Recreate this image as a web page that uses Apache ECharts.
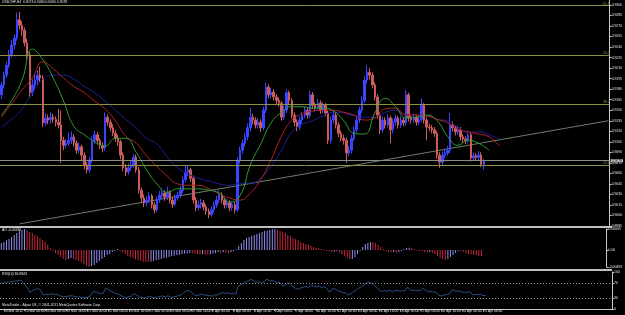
<!DOCTYPE html>
<html>
<head>
<meta charset="utf-8">
<script src="https://cdn.jsdelivr.net/npm/echarts@6/dist/echarts.min.js"></script>
<style>
html,body{margin:0;padding:0;background:#000;}
#chart{width:625px;height:315px;}
</style>
</head>
<body>
<div id="chart"></div>
<script>
// USDCHF H4 bars
var barOpen = [
0.9172,0.9186,0.9200,0.9214,0.9229,0.9243,0.9253,0.9279,0.9271,0.9264,
0.9246,0.9229,0.9175,0.9186,0.9193,0.9200,0.9196,0.9132,0.9139,0.9136,
0.9140,0.9137,0.9133,0.9129,0.9107,0.9100,0.9103,0.9107,0.9112,0.9103,
0.9093,0.9098,0.9086,0.9072,0.9065,0.9079,0.9107,0.9115,0.9107,0.9100,
0.9096,0.9140,0.9133,0.9125,0.9117,0.9110,0.9105,0.9086,0.9068,0.9062,
0.9068,0.9072,0.9083,0.9065,0.9036,0.9025,0.9018,0.9022,0.9028,0.9015,
0.9008,0.9022,0.9029,0.9032,0.9026,0.9033,0.9022,0.9016,0.9025,0.9029,
0.9036,0.9051,0.9062,0.9065,0.9053,0.9022,0.9011,0.9015,0.9018,0.9012,
0.9006,0.9001,0.9008,0.9015,0.9022,0.9029,0.9022,0.9015,0.9018,0.9011,
0.9015,0.9008,0.9079,0.9093,0.9103,0.9112,0.9125,0.9140,0.9136,0.9129,
0.9133,0.9125,0.9150,0.9183,0.9172,0.9176,0.9169,0.9164,0.9160,0.9140,
0.9150,0.9175,0.9164,0.9143,0.9133,0.9126,0.9136,0.9143,0.9150,0.9143,
0.9172,0.9157,0.9153,0.9160,0.9150,0.9157,0.9146,0.9107,0.9136,0.9143,
0.9129,0.9117,0.9110,0.9107,0.9089,0.9093,0.9110,0.9122,0.9136,0.9150,
0.9164,0.9193,0.9204,0.9200,0.9186,0.9169,0.9143,0.9122,0.9136,0.9129,
0.9139,0.9122,0.9133,0.9139,0.9129,0.9136,0.9132,0.9172,0.9139,0.9136,
0.9140,0.9133,0.9137,0.9157,0.9136,0.9126,0.9125,0.9122,0.9117,0.9086,
0.9076,0.9086,0.9089,0.9093,0.9129,0.9125,0.9119,0.9122,0.9112,0.9109,
0.9107,0.9115,0.9082,0.9085,0.9083,0.9086,0.9073];
var barClose = [
0.9186,0.9200,0.9214,0.9229,0.9243,0.9253,0.9279,0.9271,0.9264,0.9246,
0.9229,0.9175,0.9186,0.9193,0.9200,0.9196,0.9132,0.9139,0.9136,0.9140,
0.9137,0.9133,0.9129,0.9107,0.9100,0.9103,0.9107,0.9112,0.9103,0.9093,
0.9098,0.9086,0.9072,0.9065,0.9079,0.9107,0.9115,0.9107,0.9100,0.9096,
0.9140,0.9133,0.9125,0.9117,0.9110,0.9105,0.9086,0.9068,0.9062,0.9068,
0.9072,0.9083,0.9065,0.9036,0.9025,0.9018,0.9022,0.9028,0.9015,0.9008,
0.9022,0.9029,0.9032,0.9026,0.9033,0.9022,0.9016,0.9025,0.9029,0.9036,
0.9051,0.9062,0.9065,0.9053,0.9022,0.9011,0.9015,0.9018,0.9012,0.9006,
0.9001,0.9008,0.9015,0.9022,0.9029,0.9022,0.9015,0.9018,0.9011,0.9015,
0.9008,0.9079,0.9093,0.9103,0.9112,0.9125,0.9140,0.9136,0.9129,0.9133,
0.9125,0.9150,0.9183,0.9172,0.9176,0.9169,0.9164,0.9160,0.9140,0.9150,
0.9175,0.9164,0.9143,0.9133,0.9126,0.9136,0.9143,0.9150,0.9143,0.9172,
0.9157,0.9153,0.9160,0.9150,0.9157,0.9146,0.9107,0.9136,0.9143,0.9129,
0.9117,0.9110,0.9107,0.9089,0.9093,0.9110,0.9122,0.9136,0.9150,0.9164,
0.9193,0.9204,0.9200,0.9186,0.9169,0.9143,0.9122,0.9136,0.9129,0.9139,
0.9122,0.9133,0.9139,0.9129,0.9136,0.9132,0.9172,0.9139,0.9136,0.9140,
0.9133,0.9137,0.9157,0.9136,0.9126,0.9125,0.9122,0.9117,0.9086,0.9076,
0.9086,0.9089,0.9093,0.9129,0.9125,0.9119,0.9122,0.9112,0.9109,0.9107,
0.9115,0.9082,0.9085,0.9083,0.9086,0.9073,0.9078];
var barLow = [
0.9166,0.9181,0.9196,0.9210,0.9225,0.9237,0.9249,0.9265,0.9256,0.9241,
0.9222,0.9168,0.9170,0.9180,0.9186,0.9190,0.9126,0.9128,0.9130,0.9131,
0.9132,0.9127,0.9124,0.9075,0.9093,0.9096,0.9099,0.9102,0.9098,0.9088,
0.9089,0.9079,0.9066,0.9060,0.9061,0.9075,0.9102,0.9101,0.9095,0.9090,
0.9092,0.9128,0.9120,0.9113,0.9105,0.9099,0.9080,0.9063,0.9056,0.9058,
0.9064,0.9068,0.9061,0.9031,0.9019,0.9012,0.9013,0.9018,0.9010,0.9003,
0.9005,0.9018,0.9024,0.9021,0.9022,0.9017,0.9011,0.9013,0.9021,0.9025,
0.9032,0.9047,0.9056,0.9048,0.9017,0.9006,0.9007,0.9010,0.9007,0.9001,
0.8996,0.8998,0.9004,0.9011,0.9018,0.9017,0.9010,0.9011,0.9006,0.9007,
0.9003,0.9005,0.9074,0.9088,0.9098,0.9107,0.9120,0.9130,0.9124,0.9124,
0.9119,0.9121,0.9146,0.9167,0.9167,0.9164,0.9159,0.9155,0.9135,0.9136,
0.9146,0.9159,0.9138,0.9127,0.9120,0.9122,0.9131,0.9139,0.9138,0.9139,
0.9152,0.9148,0.9149,0.9145,0.9146,0.9141,0.9102,0.9103,0.9131,0.9124,
0.9112,0.9105,0.9101,0.9075,0.9084,0.9088,0.9106,0.9118,0.9132,0.9146,
0.9160,0.9188,0.9194,0.9181,0.9164,0.9138,0.9116,0.9118,0.9124,0.9125,
0.9103,0.9117,0.9128,0.9124,0.9125,0.9127,0.9128,0.9134,0.9131,0.9132,
0.9128,0.9129,0.9133,0.9131,0.9107,0.9120,0.9117,0.9112,0.9081,0.9068,
0.9072,0.9082,0.9085,0.9089,0.9120,0.9114,0.9115,0.9107,0.9104,0.9102,
0.9103,0.9077,0.9078,0.9078,0.9079,0.9069,0.9065];
var barHigh = [
0.9190,0.9205,0.9219,0.9236,0.9250,0.9258,0.9289,0.9290,0.9277,0.9268,
0.9252,0.9233,0.9194,0.9203,0.9207,0.9212,0.9200,0.9146,0.9144,0.9147,
0.9145,0.9141,0.9152,0.9150,0.9112,0.9109,0.9118,0.9120,0.9116,0.9107,
0.9104,0.9101,0.9090,0.9076,0.9084,0.9113,0.9121,0.9119,0.9110,0.9104,
0.9147,0.9144,0.9137,0.9130,0.9122,0.9115,0.9108,0.9090,0.9073,0.9074,
0.9078,0.9088,0.9087,0.9069,0.9040,0.9030,0.9028,0.9034,0.9031,0.9019,
0.9027,0.9035,0.9039,0.9036,0.9041,0.9036,0.9026,0.9030,0.9034,0.9042,
0.9056,0.9072,0.9070,0.9068,0.9057,0.9026,0.9021,0.9024,0.9022,0.9016,
0.9010,0.9013,0.9020,0.9028,0.9036,0.9033,0.9026,0.9024,0.9022,0.9020,
0.9019,0.9083,0.9098,0.9108,0.9118,0.9131,0.9153,0.9145,0.9140,0.9139,
0.9137,0.9155,0.9189,0.9187,0.9182,0.9180,0.9173,0.9168,0.9163,0.9156,
0.9180,0.9178,0.9167,0.9147,0.9137,0.9141,0.9148,0.9155,0.9154,0.9178,
0.9176,0.9161,0.9166,0.9164,0.9162,0.9160,0.9150,0.9141,0.9149,0.9147,
0.9133,0.9121,0.9115,0.9111,0.9099,0.9115,0.9127,0.9141,0.9155,0.9170,
0.9199,0.9214,0.9210,0.9204,0.9190,0.9173,0.9147,0.9141,0.9140,0.9144,
0.9142,0.9138,0.9144,0.9142,0.9141,0.9140,0.9179,0.9175,0.9143,0.9145,
0.9144,0.9142,0.9167,0.9160,0.9140,0.9131,0.9129,0.9126,0.9120,0.9090,
0.9091,0.9094,0.9099,0.9146,0.9134,0.9129,0.9128,0.9126,0.9116,0.9113,
0.9121,0.9118,0.9090,0.9089,0.9092,0.9090,0.9080];

// one label every 8 bars, first one on bar 1
var tickLabels = ['13 Mar 2012','15 Mar 00:00','16 Mar 08:00','19 Mar 16:00','21 Mar 00:00','22 Mar 08:00',
  '23 Mar 16:00','27 Mar 00:00','28 Mar 08:00','29 Mar 16:00','2 Apr 00:00','3 Apr 08:00','4 Apr 16:00',
  '6 Apr 00:00','9 Apr 08:00','10 Apr 16:00','12 Apr 00:00','13 Apr 08:00','16 Apr 16:00','18 Apr 00:00',
  '19 Apr 08:00','20 Apr 16:00','24 Apr 00:00','25 Apr 08:00'];

// Alligator lines, read every 4th bar
var alligatorBars = [0,4,8,12,16,20,24,28,32,36,40,44,48,52,56,60,64,68,72,76,80,84,88,92,96,
  100,104,108,112,116,120,124,128,132,136,140,144,148,152,156,160,164,168,172,176,180,184,188,192];
var lipsLine = [0.9143,0.9164,0.9193,0.9237,0.9222,0.9196,0.9163,0.9127,0.9115,0.9105,0.9099,0.9110,
  0.9110,0.9090,0.9065,0.9045,0.9033,0.9038,0.9038,0.9038,0.9036,0.9032,0.9019,0.9028,0.9072,0.9102,
  0.9132,0.9147,0.9155,0.9155,0.9153,0.9153,0.9149,0.9135,0.9117,0.9116,0.9146,0.9167,0.9155,0.9139,
  0.9140,0.9143,0.9135,0.9113,0.9100,0.9107,0.9103,0.9093];
var teethLine = [0.9140,0.9159,0.9179,0.9196,0.9219,0.9209,0.9196,0.9184,0.9175,0.9163,0.9152,0.9135,
  0.9113,0.9103,0.9085,0.9070,0.9056,0.9045,0.9043,0.9043,0.9038,0.9031,0.9025,0.9022,0.9032,0.9051,
  0.9079,0.9113,0.9136,0.9145,0.9149,0.9150,0.9150,0.9147,0.9143,0.9136,0.9139,0.9152,0.9153,0.9143,
  0.9143,0.9142,0.9137,0.9132,0.9123,0.9119,0.9116,0.9112,0.9099];
var jawLine = [0.9126,0.9137,0.9152,0.9175,0.9194,0.9200,0.9200,0.9194,0.9184,0.9175,0.9163,0.9150,
  0.9137,0.9125,0.9110,0.9102,0.9083,0.9068,0.9059,0.9053,0.9049,0.9045,0.9043,0.9046,0.9046,0.9053,
  0.9070,0.9093,0.9119,0.9130,0.9135,0.9142,0.9147,0.9146,0.9142,0.9140,0.9140,0.9147,0.9150,0.9143,
  0.9143,0.9142,0.9137,0.9135,0.9126,0.9119,0.9119,0.9115,0.9109];

var aoValues = [
0.00203,0.00232,0.0029,0.00319,0.00377,0.00435,0.00493,0.00551,0.0058,0.00609,
0.0058,0.00522,0.00493,0.00435,0.00406,0.00348,0.0029,0.00232,0.00145,0.00058,
-0.00029,-0.00087,-0.00145,-0.00203,-0.00261,-0.0029,-0.00261,-0.00232,-0.00261,-0.0029,
-0.00319,-0.00348,-0.00406,-0.00464,-0.00493,-0.00464,-0.00435,-0.00377,-0.00319,-0.00261,
-0.00203,-0.00145,-0.00116,-0.00058,-0.00029,0.00029,-0.00029,-0.00058,-0.00116,-0.00174,
-0.00203,-0.00232,-0.00261,-0.0029,-0.00319,-0.0034,-0.00349,-0.00352,-0.00336,-0.00319,
-0.0029,-0.00284,-0.00261,-0.00232,-0.00226,-0.00203,-0.00174,-0.00168,-0.00145,-0.00139,
-0.00116,-0.0011,-0.00104,-0.00087,-0.00095,-0.0011,-0.00121,-0.0013,-0.00122,-0.00135,
-0.0014,-0.0012,-0.001,-0.00085,-0.0006,-0.00075,-0.00065,-0.0007,-0.00085,-0.0006,
-0.00035,0.00029,0.00116,0.00203,0.0029,0.00348,0.00377,0.00406,0.00435,0.00464,
0.00493,0.00522,0.00551,0.0056,0.0058,0.006,0.00609,0.0058,0.00551,0.00522,
0.00493,0.00435,0.00406,0.00348,0.00319,0.0029,0.00232,0.00203,0.00174,0.00145,
0.00116,0.00087,0.00058,0.0005,0.00029,0.00025,-0.00029,-0.00035,-0.00058,-0.00052,
-0.0003,-0.00058,-0.00116,-0.00174,-0.00232,-0.00261,-0.00255,-0.00203,-0.00116,-0.00029,
0.00087,0.00174,0.00203,0.00232,0.00225,0.00203,0.00145,0.00087,0.00029,-0.00029,
-0.00058,-0.00062,-0.00055,-0.00087,-0.00058,-0.00029,0.00029,0.00058,0.00062,0.00055,
0.00029,-0.00029,-0.0002,-0.00035,-0.00058,-0.00062,-0.00058,-0.00087,-0.00116,-0.00174,
-0.00232,-0.00261,-0.0029,-0.00261,-0.00203,-0.00145,-0.00087,-0.00029,-0.00035,-0.00058,
-0.00087,-0.00116,-0.0012,-0.00145,-0.0015,-0.00174,-0.0018];

var rsiValues = [
70,71,72,73,74,75,76,78,75,66,
58,45,50,53,55,52,38,40,39,41,
40,39,38,34,33,34,35,36,34,32,
33,31,32,31,34,45,47,44,42,41,
56,53,48,45,42,40,36,32,31,33,
35,42,37,33,31,30,32,34,31,30,
32,34,35,33,36,32,32,34,36,38,
44,49,50,45,39,36,38,40,38,37,
36,35,38,38,42,44,42,44,41,43,
40,62,66,70,73,77,80,76,72,74,
70,74,81,76,77,74,72,71,62,65,
71,67,60,56,53,57,59,61,58,66,
61,60,62,58,60,56,45,54,55,50,
47,45,44,38,40,46,50,55,59,63,
70,72,70,65,59,52,47,50,48,51,
46,49,51,48,50,49,59,51,50,51,
49,50,56,50,47,47,46,45,37,35,
38,39,40,52,50,48,49,46,45,45,
47,38,39,39,40,36,37];

var fibLevels = ['23.6', '38.2', '50.0', '61.8'];
var fibPrices = [0.9072, 0.9159, 0.9229, 0.9299];
var trendLine = [[7, 0.8988], [234, 0.9135]];
var slotCount = 235;

var slots = [];
for (var i = 0; i < slotCount; i++) slots.push(i);
var candles = barOpen.map(function (o, i) { return [o, barClose[i], barLow[i], barHigh[i]]; });
var lastClose = barClose[barClose.length - 1];

function isTick(i) { return i >= 1 && i <= 185 && (i - 1) % 8 === 0; }
function alligator(vals) { return vals.map(function (v, k) { return [alligatorBars[k], v]; }); }

var fontFam = 'Liberation Sans';
var txt = {color: '#e8e8e8', fontSize: 3.4, fontFamily: fontFam, fontWeight: 'normal'};
var axisCol = '#c8c8c8';
var bull = '#3b44ff', bear = '#cd5c5c';
var olive = '#8f8f45';

// horizontal levels: fibonacci lines and the bid line
var levelMarks = fibPrices.map(function (p, i) {
    return {yAxis: p, lineStyle: {color: olive, width: 1, type: 'solid'},
        label: {show: true, position: 'insideEndTop', distance: 0, formatter: fibLevels[i],
            color: olive, fontSize: 3.4, fontFamily: fontFam}};
});
levelMarks.push({yAxis: lastClose, lineStyle: {color: '#8a8a8a', width: 1, type: 'solid'},
    label: {show: true, position: 'end', distance: 1, formatter: lastClose.toFixed(4),
        color: '#000', backgroundColor: '#d0d0d0', padding: [0, 1], fontSize: 3.4, fontFamily: fontFam}});

var xBase = {type: 'category', data: slots, boundaryGap: true,
    axisLine: {show: false}, axisTick: {show: false}, axisLabel: {show: false}, splitLine: {show: false}};

var chart = echarts.init(document.getElementById('chart'));
var option = {
    backgroundColor: '#000',
    animation: false,
    title: [
        {text: 'USDCHF,H4  0.9073 0.9080 0.9065 0.9078', left: 2, top: 1, padding: 0, textStyle: txt},
        {text: 'AO -0.00180', left: 2, top: 229, padding: 0, textStyle: txt},
        {text: 'RSI(14) 36.9843', left: 2, top: 273, padding: 0, textStyle: txt},
        {text: 'MetaTrader - Alpari UK, \u00a9 2001-2011 MetaQuotes Software Corp.', left: 2, top: 304, padding: 0, textStyle: txt}
    ],
    grid: [
        {left: 0, right: 13, top: 0, height: 226},
        {left: 0, right: 13, top: 229, height: 38},
        {left: 0, right: 13, top: 272, height: 37}
    ],
    xAxis: [
        Object.assign({}, xBase, {gridIndex: 0}),
        Object.assign({}, xBase, {gridIndex: 1}),
        Object.assign({}, xBase, {gridIndex: 2,
            axisLine: {show: true, lineStyle: {color: axisCol, width: 1}},
            axisTick: {show: true, alignWithLabel: true, length: 2, interval: function (i) { return isTick(i); },
                lineStyle: {color: axisCol}},
            axisLabel: {show: true, align: 'left', margin: 1, color: '#e8e8e8', fontSize: 3.4, fontFamily: fontFam,
                interval: function (i) { return isTick(i); },
                formatter: function (v, i) { return tickLabels[(i - 1) / 8]; }}
        })
    ],
    yAxis: [
        {type: 'value', gridIndex: 0, position: 'right', min: 0.8985, max: 0.93071, interval: 0.0015,
            axisLine: {show: true, lineStyle: {color: axisCol}},
            axisTick: {show: true, length: 2, lineStyle: {color: axisCol}},
            axisLabel: {margin: 2, color: '#e8e8e8', fontSize: 3.4, fontFamily: fontFam, showMaxLabel: false,
                formatter: function (v) { return v.toFixed(4); }},
            splitLine: {show: false}},
        {type: 'value', gridIndex: 1, position: 'right', min: -0.00493, max: 0.00609,
            axisLine: {show: true, lineStyle: {color: axisCol}},
            axisTick: {show: true, length: 2, customValues: [-0.00493, 0, 0.00609], lineStyle: {color: axisCol}},
            axisLabel: {margin: 2, color: '#e8e8e8', fontSize: 3.4, fontFamily: fontFam,
                customValues: [-0.00493, 0, 0.00609],
                formatter: function (v) { return v === 0 ? '0.00' : v.toFixed(5); }},
            splitLine: {show: false}},
        {type: 'value', gridIndex: 2, position: 'right', min: 0, max: 100,
            axisLine: {show: true, lineStyle: {color: axisCol}},
            axisTick: {show: true, length: 2, customValues: [0, 30, 70, 100], lineStyle: {color: axisCol}},
            axisLabel: {margin: 2, color: '#e8e8e8', fontSize: 3.4, fontFamily: fontFam,
                customValues: [0, 30, 70, 100]},
            splitLine: {show: false}}
    ],
    graphic: [
        {type: 'rect', shape: {x: 0, y: 226, width: 612, height: 2}, style: {fill: '#c0c0c0'}},
        {type: 'rect', shape: {x: 0, y: 269, width: 612, height: 2}, style: {fill: '#c0c0c0'}}
    ],
    series: [
        {type: 'line', name: 'trend', xAxisIndex: 0, yAxisIndex: 0, data: trendLine, symbol: 'none',
            lineStyle: {color: '#6c7f6c', width: 1}, z: 1,
            markLine: {silent: true, precision: 5, symbol: ['none', 'none'], data: levelMarks}},
        {type: 'candlestick', name: 'USDCHF', xAxisIndex: 0, yAxisIndex: 0, data: candles, barWidth: 2,
            itemStyle: {color: bull, color0: bear, borderColor: bull, borderColor0: bear, borderWidth: 1}, z: 2},
        {type: 'line', name: 'jaw', xAxisIndex: 0, yAxisIndex: 0, data: alligator(jawLine), smooth: true,
            symbol: 'none', lineStyle: {color: '#1f1f95', width: 1}, z: 3},
        {type: 'line', name: 'teeth', xAxisIndex: 0, yAxisIndex: 0, data: alligator(teethLine), smooth: true,
            symbol: 'none', lineStyle: {color: '#b22222', width: 1}, z: 3},
        {type: 'line', name: 'lips', xAxisIndex: 0, yAxisIndex: 0, data: alligator(lipsLine), smooth: true,
            symbol: 'none', lineStyle: {color: '#2f9e2f', width: 1}, z: 3},
        {type: 'bar', name: 'AO', xAxisIndex: 1, yAxisIndex: 1, barWidth: 1,
            data: aoValues.map(function (v, i) {
                var up = i === 0 || v > aoValues[i - 1];
                return {value: v, itemStyle: {color: up ? '#8c8cf0' : '#c8283c'}};
            })},
        {type: 'line', name: 'RSI', xAxisIndex: 2, yAxisIndex: 2, data: rsiValues, symbol: 'none',
            lineStyle: {color: '#2a5080', width: 1},
            markLine: {silent: true, symbol: ['none', 'none'], label: {show: false},
                lineStyle: {color: '#9a9a9a', type: [1, 2], width: 1},
                data: [{yAxis: 30}, {yAxis: 70}]}}
    ]
};
chart.setOption(option);
</script>
</body>
</html>
